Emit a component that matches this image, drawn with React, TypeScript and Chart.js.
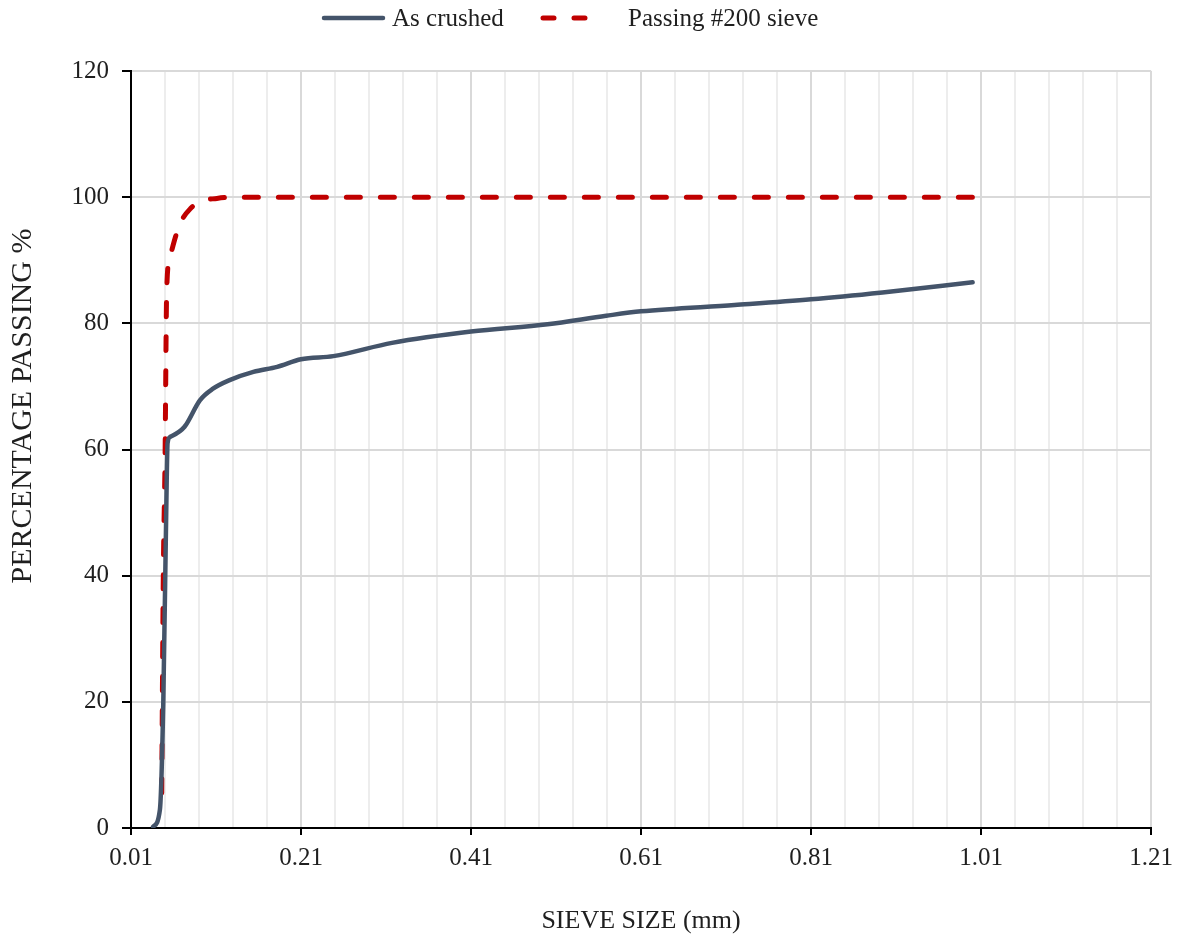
import React, { useEffect, useRef } from "react";
import { Chart, registerables } from "chart.js";

Chart.register(...registerables);

// ---- Data ----
const SERIES_NAMES = ["As crushed", "Passing #200 sieve"];

const asCrushedSize = [0.036, 0.044, 0.048, 0.052, 0.053, 0.056, 0.073, 0.091, 0.106, 0.126, 0.154, 0.182, 0.21, 0.248, 0.317, 0.41, 0.5, 0.569, 0.61, 0.72, 0.81, 0.894, 1.0];
const asCrushedPassing = [0.2, 2.9, 20, 55, 61, 62, 63.6, 67.8, 69.6, 71, 72.3, 73.1, 74.3, 74.8, 76.9, 78.7, 79.85, 81.2, 81.9, 82.9, 83.8, 84.9, 86.5];

const passing200Size = [0.046, 0.048, 0.05, 0.052, 0.056, 0.063, 0.07, 0.08, 0.091, 0.111, 0.13, 0.25, 0.425, 0.6, 0.85, 1.0];
const passing200Passing = [2.9, 40, 58, 85.3, 90.6, 94, 96.4, 98.2, 99.3, 99.8, 100, 100, 100, 100, 100, 100];

const X_MIN = 0.01;
const X_MAX = 1.21;
const X_MINOR_STEP = 0.04;
const X_MAJOR_EVERY = 5;
const Y_MIN = 0;
const Y_MAX = 120;
const Y_STEP = 20;

const X_TITLE = "SIEVE SIZE (mm)";
const Y_TITLE = "PERCENTAGE PASSING %";

const GRAY = "#44546A";
const RED = "#C00000";
const FONT = "'Liberation Serif', 'Times New Roman', serif";
const TEXT = "#1f1f1f";

const decorPlugin = {
  id: "decor",
  afterDraw(chart: any) {
    const ctx = chart.ctx;
    const y = 18;
    ctx.save();
    ctx.font = `25px ${FONT}`;
    ctx.fillStyle = TEXT;
    ctx.textBaseline = "middle";
    ctx.textAlign = "left";
    // legend item 1
    const ds0 = chart.data.datasets[0];
    ctx.strokeStyle = ds0.borderColor;
    ctx.lineWidth = ds0.borderWidth;
    ctx.lineCap = "round";
    ctx.setLineDash([]);
    ctx.beginPath();
    ctx.moveTo(324, y);
    ctx.lineTo(383, y);
    ctx.stroke();
    ctx.fillText(ds0.label, 392, y + 1);
    // legend item 2
    const ds1 = chart.data.datasets[1];
    ctx.strokeStyle = ds1.borderColor;
    ctx.lineWidth = ds1.borderWidth;
    ctx.setLineDash([11, 20]);
    ctx.beginPath();
    ctx.moveTo(543, y);
    ctx.lineTo(585, y);
    ctx.stroke();
    ctx.setLineDash([]);
    ctx.fillText(ds1.label, 628, y + 1);
    // y-axis title
    ctx.translate(23, 406);
    ctx.rotate(-Math.PI / 2);
    ctx.font = `30px ${FONT}`;
    ctx.textAlign = "center";
    ctx.fillText(Y_TITLE, 0, 0);
    ctx.restore();
  },
};

export default function App() {
  const canvasRef = useRef<HTMLCanvasElement | null>(null);

  useEffect(() => {
    if (!canvasRef.current) return;
    const chart = new Chart(canvasRef.current, {
      type: "scatter",
      data: {
        datasets: [
          {
            label: SERIES_NAMES[0],
            data: asCrushedSize.map((x, i) => ({ x, y: asCrushedPassing[i] })),
            showLine: true,
            borderColor: GRAY,
            backgroundColor: GRAY,
            borderWidth: 4.5,
            pointRadius: 0,
            cubicInterpolationMode: "monotone",
            borderCapStyle: "round",
            borderJoinStyle: "round",
          },
          {
            label: SERIES_NAMES[1],
            data: passing200Size.map((x, i) => ({ x, y: passing200Passing[i] })),
            showLine: true,
            borderColor: RED,
            backgroundColor: RED,
            borderWidth: 5,
            borderDash: [14, 20],
            borderDashOffset: 17,
            pointRadius: 0,
            cubicInterpolationMode: "monotone",
            borderCapStyle: "round",
            borderJoinStyle: "round",
          },
        ],
      },
      options: {
        animation: false,
        responsive: true,
        maintainAspectRatio: false,
        layout: { padding: { top: 71, left: 0, right: 28, bottom: 0 } },
        plugins: { legend: { display: false }, tooltip: { enabled: false } },
        scales: {
          x: {
            type: "linear",
            min: X_MIN,
            max: X_MAX,
            afterFit: (scale: any) => {
              scale.height = 109;
            },
            ticks: {
              stepSize: X_MINOR_STEP,
              autoSkip: false,
              maxRotation: 0,
              padding: 8,
              color: TEXT,
              font: { family: FONT, size: 25 },
              callback: (value: any, index: number) =>
                index % X_MAJOR_EVERY === 0 ? Number(value).toFixed(2) : "",
            },
            grid: {
              color: (c: any) => (c.index % X_MAJOR_EVERY === 0 ? "#d9d9d9" : "#ededed"),
              lineWidth: 2,
              tickColor: (c: any) => (c.index % X_MAJOR_EVERY === 0 ? "#000000" : "rgba(0,0,0,0)"),
              tickLength: 7,
            },
            border: { color: "#000000", width: 2 },
            title: {
              display: true,
              text: X_TITLE,
              color: TEXT,
              font: { family: FONT, size: 26 },
              padding: { top: 0, bottom: 0 },
            },
          },
          y: {
            type: "linear",
            min: Y_MIN,
            max: Y_MAX,
            afterFit: (scale: any) => {
              scale.width = 131;
            },
            ticks: {
              stepSize: Y_STEP,
              padding: 13,
              color: TEXT,
              font: { family: FONT, size: 25 },
            },
            grid: {
              color: "#d9d9d9",
              lineWidth: 2,
              tickColor: "#000000",
              tickLength: 9,
            },
            border: { color: "#000000", width: 2 },
            title: { display: false },
          },
        },
      },
      plugins: [decorPlugin],
    });
    return () => chart.destroy();
  }, []);

  return (
    <div style={{ position: "fixed", left: 0, top: 0, width: 1181, height: 937, background: "#fff" }}>
      <canvas ref={canvasRef} />
    </div>
  );
}
